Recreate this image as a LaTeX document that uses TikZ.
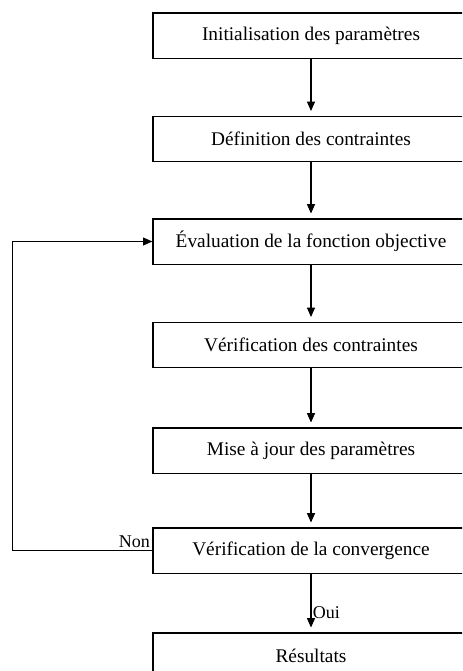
\documentclass[tikz,border=0pt]{standalone}
\usepackage{fontspec}
\setmainfont{Liberation Serif}
\usetikzlibrary{arrows.meta}
\begin{document}
\begin{tikzpicture}[>={Triangle[length=7pt,width=6pt]}, x=0.75pt, y=-0.75pt,
		etape/.style={draw, line width=1pt, minimum width=237pt, minimum height=34pt, font=\fontsize{14.5}{17}\selectfont},
		fleche/.style={->, line width=0.8pt, shorten >=3.5pt},
		choix/.style={inner sep=1.5pt, font=\fontsize{13.5}{16}\selectfont}]
			\clip (0,0) rectangle (462,671);
			\node[etape] (init) at (311,35.5) {Initialisation des paramètres};
			\node[etape] (contr) at (311,139) {Définition des contraintes};
			\node[etape] (eval) at (311,241.5) {Évaluation de la fonction objective};
			\node[etape] (verif) at (311,345) {Vérification des contraintes};
			\node[etape] (maj) at (311,450.5) {Mise à jour des paramètres};
			\node[etape] (conv) at (311,550.5) {Vérification de la convergence};
			\node[etape] (res) at (311,655.5) {Résultats};
			\draw[fleche](init)--(contr);
			\draw[fleche](contr)--(eval);
			\draw[fleche](eval)--(verif);
			\draw[fleche](verif)--(maj);
			\draw[fleche](maj)--(conv);
			\draw[fleche](conv)-- node[choix, right, pos=.66, inner sep=1pt]{Oui} (res);
			\draw[fleche, line width=0.6pt, shorten >=0pt](conv.west) node[choix, above left]{Non} --++(-139.5,0) |- (eval.west);
		\end{tikzpicture}
\end{document}
